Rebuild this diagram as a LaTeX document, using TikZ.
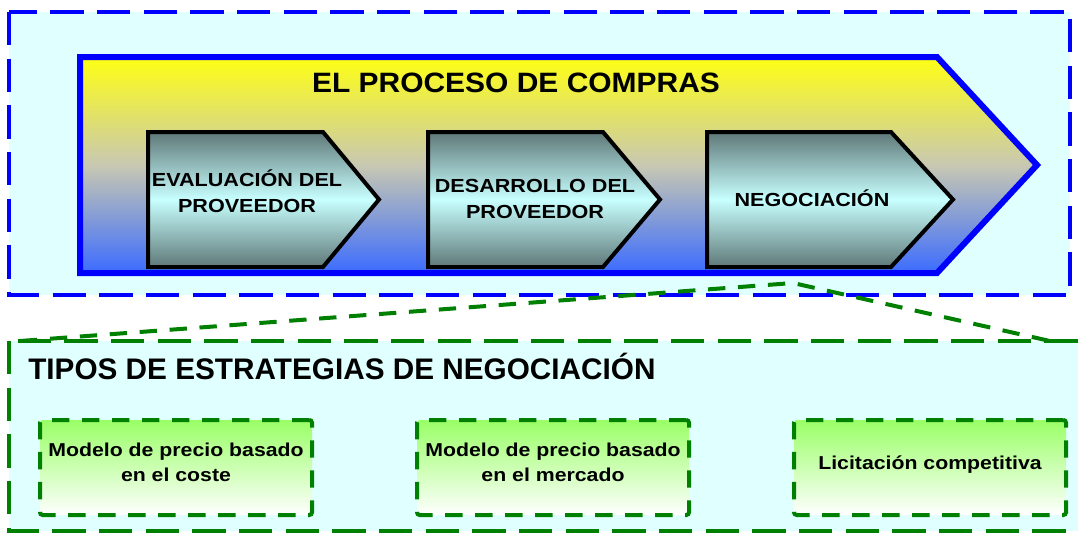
\documentclass[tikz,border=0pt]{standalone}
\usepackage{fontspec}
\setmainfont{Liberation Sans}
\newfontfamily\widefont{Liberation Sans}[FakeStretch=1.14]
\newfontfamily\headfont{Liberation Sans}[FakeStretch=1.07]
\usetikzlibrary{positioning}

\definecolor{paleCyan}{RGB}{224,255,255}
\definecolor{procYellow}{RGB}{255,255,20}
\definecolor{procMid}{RGB}{200,200,178}
\definecolor{procBlue}{RGB}{60,108,255}
\definecolor{stepGray}{RGB}{95,120,120}
\definecolor{stepLight}{RGB}{200,255,255}
\definecolor{lineGreen}{RGB}{0,128,0}
\definecolor{boxGreen}{RGB}{153,255,102}

\begin{document}
\begin{tikzpicture}[x=0.75pt, y=-0.75pt,
  bigdash/.style={line width=3pt, dash pattern=on 25pt off 10pt},
  smalldash/.style={line width=3pt, dash pattern=on 13pt off 9.5pt},
  chevron/.style={draw=black, line width=3pt, top color=stepGray, bottom color=stepGray, middle color=stepLight},
  steptext/.style={font=\widefont\bfseries\fontsize{14.2}{19.5}\selectfont, align=center},
  stratbox/.style={draw=lineGreen, smalldash, rounded corners=2pt, outer sep=0pt,
    top color=boxGreen, bottom color=white, minimum width=204pt, minimum height=71.25pt,
    text depth=8pt, align=center, font=\widefont\bfseries\fontsize{14}{18.75}\selectfont},
  node distance=78.75pt]

\useasboundingbox[fill=white] (0,0) rectangle (1078,533);

\draw[blue, bigdash, fill=paleCyan] (9,12) rectangle (1070,295);
\draw[blue, line width=4.5pt, top color=procYellow, bottom color=procBlue, middle color=procMid]
  (80,57) -- (937,57) -- (1037,165) -- (937,273) -- (80,273) -- cycle;
\node[font=\headfont\bfseries\fontsize{21}{25}\selectfont] (proceso) at (516,83) {EL PROCESO DE COMPRAS};

\foreach \x/\s/\t in {148/323/379, 428/603/660, 707/891/953}
  \draw[chevron] (\x,132) -- (\s,132) -- (\t,199.5) -- (\s,267) -- (\x,267) -- cycle;
\node[steptext] (evaluacion) at (247,191) {EVALUACIÓN DEL\\PROVEEDOR};
\node[steptext] (desarrollo) at (535,199) {DESARROLLO DEL\\PROVEEDOR};
\node[steptext] (negociacion) at (812,198) {NEGOCIACIÓN};

\draw[lineGreen, bigdash, fill=paleCyan] (9,341) rectangle (1100,531);
\coordinate (zoomleft) at (20,341);
\coordinate (zoompeak) at (793,283);
\coordinate (zoomright) at (1050,341);
\draw[lineGreen, smalldash] (zoomleft) -- (zoompeak) -- (zoomright);

\node[anchor=base west, inner sep=0pt, font=\bfseries\fontsize{22.3}{26}\selectfont] (tipos) at (28,379)
  {TIPOS DE ESTRATEGIAS DE NEGOCIACIÓN};

\node[stratbox] (coste) at (176,467.5) {Modelo de precio basado\\en el coste};
\node[stratbox, right=of coste] (mercado) {Modelo de precio basado\\en el mercado};
\node[stratbox, right=of mercado] (licitacion) {Licitación competitiva};

\end{tikzpicture}
\end{document}
